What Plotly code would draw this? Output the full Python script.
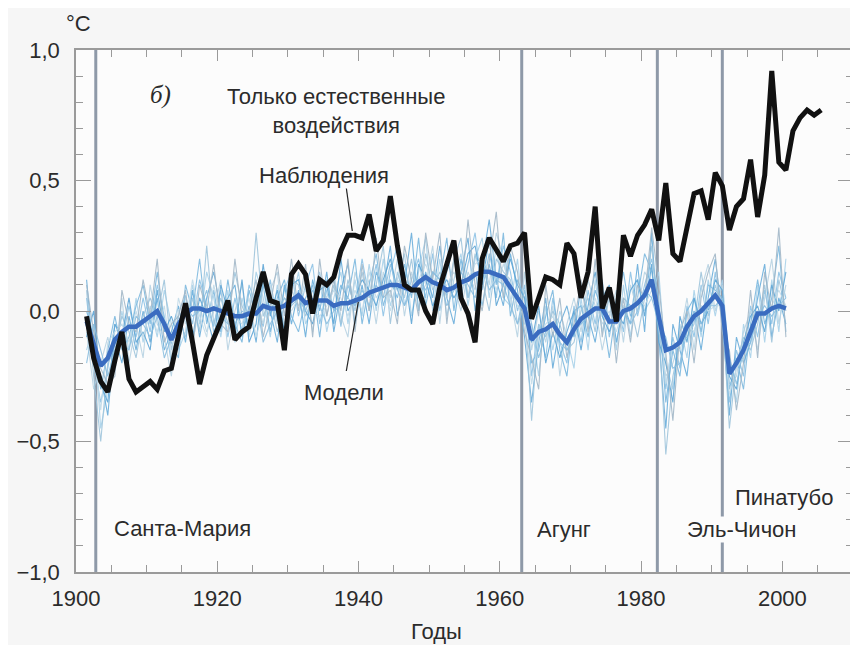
import numpy as np
import plotly.graph_objects as go

# ---------------- data ----------------
obs_years = list(range(1901, 2006))
observations = [
    -0.02, -0.18, -0.27, -0.31, -0.19, -0.08, -0.26, -0.31, -0.29, -0.27,
    -0.30, -0.23, -0.22, -0.10, 0.03, -0.12, -0.28, -0.17, -0.11, -0.04,
    0.04, -0.11, -0.08, -0.06, 0.05, 0.15, 0.04, 0.03, -0.15, 0.14,
    0.18, 0.14, -0.01, 0.12, 0.10, 0.13, 0.23, 0.29, 0.29, 0.28,
    0.37, 0.23, 0.27, 0.44, 0.25, 0.10, 0.08, 0.08, 0.00, -0.05,
    0.09, 0.18, 0.27, 0.05, -0.01, -0.12, 0.20, 0.28, 0.23, 0.19,
    0.25, 0.26, 0.30, -0.03, 0.05, 0.13, 0.12, 0.10, 0.26, 0.22,
    0.05, 0.15, 0.40, 0.01, 0.09, -0.04, 0.29, 0.21, 0.29, 0.33,
    0.39, 0.27, 0.49, 0.22, 0.19, 0.32, 0.45, 0.46, 0.35, 0.53,
    0.48, 0.31, 0.40, 0.43, 0.58, 0.36, 0.52, 0.92, 0.57, 0.54,
    0.69, 0.74, 0.77, 0.75, 0.77,
]

model_years = list(range(1901, 2001))
model_mean = [
    -0.04, -0.12, -0.21, -0.18, -0.11, -0.08, -0.06, -0.06, -0.04, -0.02,
    0.00, -0.05, -0.11, -0.05, -0.01, 0.01, 0.01, 0.00, 0.01, 0.00,
    -0.01, -0.02, -0.02, -0.01, -0.01, 0.02, 0.01, 0.01, 0.02, 0.04,
    0.06, 0.03, 0.04, 0.04, 0.04, 0.02, 0.03, 0.03, 0.04, 0.05,
    0.07, 0.08, 0.09, 0.10, 0.10, 0.09, 0.08, 0.11, 0.13, 0.11,
    0.10, 0.08, 0.09, 0.11, 0.12, 0.14, 0.15, 0.15, 0.14, 0.13,
    0.09, 0.05, 0.01, -0.11, -0.08, -0.07, -0.05, -0.09, -0.12, -0.07,
    -0.03, -0.01, 0.01, 0.01, -0.04, -0.04, 0.00, 0.01, 0.03, 0.06,
    0.12, -0.02, -0.15, -0.14, -0.12, -0.06, -0.02, 0.00, 0.03, 0.06,
    0.02, -0.24, -0.20, -0.15, -0.08, -0.01, -0.01, 0.01, 0.02, 0.01,
]

member_1 = [
    0.05, -0.20, -0.35, -0.22, -0.05, -0.12, 0.02, -0.10, 0.05, -0.08,
    0.10, -0.02, -0.20, -0.08, 0.06, -0.05, 0.12, 0.02, -0.06, 0.08,
    -0.10, 0.05, -0.08, 0.10, 0.02, -0.06, 0.12, -0.04, 0.08, 0.15,
    -0.02, 0.10, 0.18, -0.05, 0.08, 0.12, -0.06, 0.10, 0.02, 0.20,
    0.05, 0.18, -0.02, 0.15, 0.25, 0.02, 0.12, 0.20, 0.05, 0.22,
    0.00, 0.15, 0.25, 0.05, 0.18, 0.30, 0.08, 0.22, 0.10, 0.25,
    0.15, 0.00, 0.10, -0.25, -0.05, -0.18, 0.05, -0.12, -0.20, 0.02,
    -0.12, 0.08, -0.05, 0.12, -0.10, 0.05, -0.08, 0.15, -0.02, 0.10,
    0.20, 0.05, -0.30, -0.10, -0.22, 0.02, -0.10, 0.10, -0.05, 0.15,
    -0.05, -0.35, -0.15, -0.25, 0.02, -0.10, 0.08, -0.05, 0.15, 0.05,
]
member_2 = [
    -0.15, -0.05, -0.45, -0.30, -0.18, 0.00, -0.15, 0.05, -0.12, 0.02,
    -0.10, 0.08, -0.05, -0.15, -0.08, 0.10, -0.05, 0.15, 0.05, -0.10,
    0.08, -0.12, 0.05, -0.08, 0.15, 0.05, -0.10, 0.10, -0.05, 0.02,
    0.15, -0.05, 0.02, 0.12, -0.08, 0.05, 0.15, -0.05, 0.12, -0.02,
    0.18, 0.00, 0.20, 0.02, 0.12, 0.22, -0.02, 0.15, 0.28, 0.00,
    0.20, -0.02, 0.12, 0.22, 0.02, 0.20, 0.28, 0.05, 0.25, 0.05,
    0.02, 0.20, -0.05, -0.05, -0.25, 0.02, -0.15, 0.00, -0.10, -0.22,
    0.05, -0.15, 0.12, -0.08, 0.05, -0.15, 0.10, -0.10, 0.12, 0.00,
    0.05, 0.15, -0.20, -0.30, -0.05, -0.18, 0.08, -0.10, 0.12, -0.02,
    0.12, -0.20, -0.35, -0.05, -0.18, 0.10, -0.12, 0.12, -0.08, 0.20,
]
member_3 = [
    0.12, -0.18, -0.25, -0.40, -0.10, -0.20, -0.02, -0.15, 0.00, -0.12,
    0.05, -0.15, -0.08, 0.02, -0.12, 0.08, -0.10, 0.05, 0.15, 0.00,
    0.05, 0.10, -0.10, 0.02, -0.12, 0.12, 0.00, -0.12, 0.10, -0.05,
    0.08, -0.10, 0.12, 0.00, 0.15, -0.08, 0.08, 0.18, -0.05, 0.10,
    -0.05, 0.15, 0.08, 0.25, -0.02, 0.10, 0.30, 0.00, 0.15, 0.05,
    0.25, 0.05, -0.05, 0.15, 0.28, 0.00, 0.18, 0.35, 0.12, 0.02,
    0.22, 0.08, -0.10, -0.35, -0.12, 0.05, -0.22, -0.05, 0.02, -0.10,
    0.10, -0.02, -0.12, 0.05, 0.10, -0.12, 0.02, -0.05, 0.18, -0.08,
    0.30, -0.10, -0.45, -0.05, -0.15, -0.25, 0.00, -0.15, 0.05, 0.20,
    -0.02, -0.40, -0.10, -0.20, -0.12, 0.05, 0.18, -0.10, 0.05, -0.05,
]
member_4 = [
    -0.08, -0.30, -0.20, -0.10, -0.22, 0.05, -0.20, -0.05, -0.18, 0.10,
    -0.05, -0.10, -0.25, 0.00, 0.05, -0.12, 0.02, -0.08, 0.00, 0.12,
    -0.15, 0.00, 0.10, -0.10, 0.05, -0.05, 0.08, 0.15, -0.10, 0.08,
    0.02, 0.12, -0.08, 0.10, 0.05, 0.15, -0.02, -0.10, 0.15, 0.05,
    0.12, -0.05, 0.15, 0.05, 0.20, -0.02, 0.15, 0.05, 0.10, 0.25,
    -0.05, 0.20, 0.10, 0.00, 0.15, 0.08, 0.22, 0.10, 0.30, 0.20,
    0.05, -0.10, 0.15, -0.15, 0.00, -0.12, 0.02, -0.25, -0.05, 0.05,
    -0.08, 0.12, 0.02, -0.15, -0.02, 0.08, -0.12, 0.10, 0.00, 0.15,
    0.10, -0.08, -0.25, -0.20, -0.10, 0.05, -0.15, 0.08, 0.18, 0.00,
    0.10, -0.28, -0.25, -0.08, 0.00, -0.15, 0.05, 0.20, -0.05, 0.10,
]
member_5 = [
    0.00, -0.10, -0.30, -0.15, -0.02, -0.15, -0.10, 0.02, 0.10, -0.05,
    0.15, -0.05, -0.12, -0.18, 0.10, 0.00, 0.20, -0.05, 0.08, -0.08,
    0.12, -0.05, -0.12, 0.08, -0.02, 0.10, -0.08, 0.05, 0.12, -0.02,
    -0.08, 0.05, 0.10, -0.10, 0.12, 0.00, 0.10, 0.05, 0.20, -0.05,
    0.10, 0.22, 0.02, 0.12, 0.05, 0.18, 0.05, 0.28, 0.02, 0.15,
    0.12, 0.28, 0.00, 0.20, 0.05, 0.15, 0.02, 0.18, 0.05, 0.30,
    -0.02, 0.12, 0.05, -0.20, -0.15, -0.02, 0.08, -0.15, -0.25, 0.00,
    0.02, -0.10, 0.08, 0.00, -0.18, 0.02, 0.15, -0.02, 0.05, 0.22,
    0.15, 0.00, -0.35, -0.15, -0.25, 0.00, 0.05, -0.08, 0.10, 0.08,
    0.05, -0.30, -0.18, -0.30, -0.05, 0.12, -0.05, 0.05, 0.25, -0.08,
]
member_6 = [
    0.08, -0.25, -0.50, -0.20, -0.15, -0.02, -0.08, -0.18, -0.02, 0.05,
    -0.02, 0.12, -0.15, -0.02, -0.10, 0.05, -0.08, 0.25, -0.05, 0.05,
    -0.05, 0.15, 0.02, -0.05, 0.30, -0.02, 0.05, -0.08, 0.02, 0.12,
    0.10, -0.02, 0.05, 0.15, -0.02, 0.10, -0.05, 0.12, 0.00, 0.15,
    0.00, 0.10, 0.25, -0.05, 0.15, 0.05, 0.20, 0.00, 0.22, 0.08,
    0.15, 0.05, 0.20, 0.28, 0.05, 0.22, 0.12, 0.00, 0.20, 0.15,
    0.12, -0.05, 0.02, -0.42, -0.05, -0.10, 0.00, -0.05, -0.15, -0.12,
    0.00, 0.05, -0.08, 0.10, -0.05, -0.05, 0.05, 0.02, -0.10, 0.05,
    0.25, -0.05, -0.55, -0.25, -0.12, -0.10, -0.05, 0.15, -0.02, 0.10,
    0.00, -0.45, -0.20, -0.10, -0.15, -0.05, 0.10, -0.12, 0.12, 0.00,
]
member_7 = [
    -0.10, 0.00, -0.28, -0.35, -0.05, -0.10, 0.05, -0.12, -0.08, -0.15,
    0.08, -0.08, -0.02, -0.10, 0.00, -0.10, 0.05, -0.02, -0.12, 0.10,
    0.00, -0.08, 0.12, -0.12, -0.05, 0.18, -0.02, 0.08, -0.08, 0.10,
    0.12, 0.00, -0.05, 0.08, 0.10, -0.05, 0.20, 0.00, 0.05, 0.12,
    0.08, 0.02, 0.12, 0.20, 0.08, 0.15, -0.05, 0.18, 0.12, 0.02,
    0.08, 0.12, 0.05, 0.10, 0.22, 0.25, 0.10, 0.28, 0.02, 0.10,
    0.20, 0.10, 0.05, -0.12, 0.02, -0.20, -0.08, -0.18, -0.08, 0.00,
    -0.15, 0.02, 0.15, -0.02, -0.08, 0.00, -0.05, 0.08, 0.12, -0.02,
    0.18, -0.12, -0.20, -0.35, -0.02, -0.12, 0.05, -0.05, 0.00, 0.12,
    0.08, -0.25, -0.30, -0.12, -0.02, 0.02, -0.08, 0.10, 0.00, 0.15,
]
member_8 = [
    -0.05, -0.15, -0.38, -0.12, -0.08, -0.05, -0.12, 0.00, -0.10, 0.00,
    -0.08, 0.02, -0.18, 0.05, -0.05, 0.12, -0.02, -0.10, 0.10, -0.02,
    0.02, -0.02, -0.05, 0.05, -0.10, 0.00, 0.10, -0.05, 0.05, 0.00,
    0.05, 0.08, 0.00, -0.02, 0.02, 0.08, 0.05, -0.02, 0.08, 0.00,
    0.15, 0.05, 0.10, 0.00, 0.12, 0.08, 0.10, 0.12, 0.18, 0.10,
    0.05, 0.10, 0.15, 0.08, 0.12, 0.18, 0.20, 0.15, 0.08, 0.18,
    0.10, 0.02, -0.02, -0.28, -0.10, -0.05, -0.02, -0.10, -0.12, -0.05,
    -0.05, 0.00, 0.05, -0.05, 0.00, -0.08, 0.02, 0.00, 0.05, 0.02,
    0.08, 0.02, -0.28, -0.12, -0.15, -0.05, -0.08, 0.02, 0.00, 0.02,
    0.02, -0.32, -0.22, -0.18, -0.10, 0.00, -0.02, 0.02, 0.08, 0.02,
]
member_9 = [
    0.10, -0.08, -0.22, -0.28, -0.25, 0.08, -0.05, -0.08, 0.12, -0.02,
    0.20, -0.12, -0.05, -0.02, 0.08, -0.15, 0.10, 0.00, 0.18, -0.05,
    -0.08, 0.20, -0.02, 0.00, 0.12, -0.10, 0.02, 0.18, -0.02, 0.20,
    0.00, 0.18, -0.10, 0.20, -0.02, 0.12, 0.00, 0.20, -0.08, 0.18,
    0.00, 0.28, 0.05, 0.08, -0.05, 0.25, 0.12, -0.02, 0.30, 0.12,
    0.30, -0.05, 0.20, 0.05, 0.35, 0.10, 0.00, 0.20, 0.38, 0.05,
    0.25, 0.15, -0.08, -0.18, -0.30, 0.10, -0.10, 0.05, -0.18, -0.05,
    0.12, -0.08, 0.20, -0.10, 0.08, -0.20, 0.05, -0.12, 0.10, 0.05,
    0.32, 0.10, -0.15, -0.42, -0.08, 0.00, -0.20, 0.05, 0.15, 0.22,
    -0.08, -0.15, -0.38, -0.20, 0.08, -0.18, 0.15, 0.00, 0.32, -0.10,
]
member_10 = [
    -0.20, -0.05, -0.15, -0.25, -0.15, -0.12, -0.15, -0.02, -0.05, -0.10,
    -0.02, -0.18, -0.10, -0.05, 0.02, -0.02, 0.00, 0.08, -0.08, -0.02,
    -0.05, -0.05, 0.00, -0.02, 0.05, -0.12, -0.05, 0.00, 0.05, 0.02,
    0.05, 0.00, 0.08, 0.02, -0.05, 0.00, 0.02, 0.05, 0.02, 0.08,
    0.02, 0.10, 0.05, 0.18, 0.08, 0.02, 0.08, 0.12, 0.08, 0.15,
    0.12, 0.02, 0.08, 0.15, 0.10, 0.05, 0.18, 0.08, 0.12, 0.10,
    0.02, -0.05, 0.08, -0.05, -0.18, -0.08, -0.05, -0.12, -0.15, -0.08,
    -0.05, -0.02, 0.00, 0.08, -0.05, -0.02, 0.00, -0.05, 0.00, 0.08,
    0.05, -0.05, -0.10, -0.22, -0.20, -0.08, 0.00, -0.05, 0.02, 0.02,
    0.05, -0.18, -0.28, -0.15, -0.12, -0.02, 0.02, -0.02, 0.02, 0.05,
]
members = [member_1, member_2, member_3, member_4, member_5,
           member_6, member_7, member_8, member_9, member_10]

volcano_names = ["Санта-Мария", "Агунг", "Эль-Чичон", "Пинатубо"]
volcano_years = [1902.8, 1963.1, 1982.3, 1991.5]

x_ticks = [1900, 1920, 1940, 1960, 1980, 2000]
y_ticks = [-1.0, -0.5, 0.0, 0.5, 1.0]
y_tick_labels = ["−1,0", "−0,5", "0,0", "0,5", "1,0"]

# ---------------- figure ----------------
# the page shows the figure 8 px in from the top-left corner
OFF = 8
W, H = 858 - OFF, 645 - OFF
L, R, T, B = 76 - OFF, 3, 50 - OFF, 73
PW, PH = W - L - R, H - T - B

def px(xp):
    """screen pixel x -> paper x"""
    return (xp - OFF - L) / PW

def py(yp):
    """screen pixel y -> paper y"""
    return 1 - (yp - OFF - T) / PH

FONT = "Liberation Sans, Arial, sans-serif"
TXT = "#2b2b2b"

member_colors = ["#8ec3e6", "#a9d2ea", "#6aaedb", "#b8d3e3", "#7db9df",
                 "#9fc5dc", "#5fa6d6", "#c2dbe9", "#a3b8c8", "#8cbfe0"]

fig = go.Figure()
mx = np.array(model_years) + 0.5
ox = np.array(obs_years) + 0.5

for m, c in zip(members, member_colors):
    fig.add_trace(go.Scatter(x=mx, y=m, mode="lines",
                             line=dict(color=c, width=1.1),
                             opacity=0.9, hoverinfo="skip", showlegend=False))

fig.add_trace(go.Scatter(x=mx, y=model_mean, mode="lines",
                         line=dict(color="#3a6cc0", width=4.5),
                         showlegend=False, name="Модели"))
fig.add_trace(go.Scatter(x=ox, y=observations, mode="lines",
                         line=dict(color="#111111", width=5),
                         showlegend=False, name="Наблюдения"))

for vy in volcano_years:
    fig.add_shape(type="line", xref="x", yref="paper", x0=vy, x1=vy, y0=0, y1=1,
                  line=dict(color="#8e99a8", width=3), layer="below")

# leader lines
fig.add_shape(type="line", xref="paper", yref="paper",
              x0=px(347), y0=py(188), x1=px(353), y1=py(231),
              line=dict(color="#222", width=1.2))
fig.add_shape(type="line", xref="paper", yref="paper",
              x0=px(347), y0=py(371), x1=px(359), y1=py(302),
              line=dict(color="#222", width=1.2))

BG = "#fcfcfc"

def label(text, xp, yp, size=22, bg=None, family=FONT, **kw):
    fig.add_annotation(text=text, xref="paper", yref="paper", x=px(xp), y=py(yp),
                       xanchor="center", yanchor="middle", showarrow=False,
                       font=dict(family=family, size=size, color=TXT),
                       bgcolor=bg, borderpad=0, **kw)

label("°C", 79, 23, size=22)
label("Годы", 437, 631, size=22)
label("<i>б)</i>", 161, 95, size=25, family="Liberation Serif, serif")
label("Только естественные<br>воздействия", 337, 111, size=22)
label("Наблюдения", 325, 175, bg=BG)
label("Модели", 345, 392, bg=BG)
label_pos = [(183, 528), (565, 529), (744, 529), (786, 497)]
for name, (xp, yp) in zip(volcano_names, label_pos):
    label(name, xp, yp, bg=BG)

axis_common = dict(showline=True, linecolor="#9a9a9a", linewidth=1.5,
                   mirror="ticks", ticks="inside", tickcolor="#9a9a9a",
                   tickwidth=1.2, showgrid=False, zeroline=False,
                   tickfont=dict(family=FONT, size=22, color=TXT))

fig.update_xaxes(range=[1900, 2010], tickvals=x_ticks, ticklen=11,
                 ticklabelstandoff=6,
                 minor=dict(dtick=5, ticks="inside", ticklen=7,
                            tickcolor="#9a9a9a", tickwidth=1.2, showgrid=False),
                 **axis_common)
fig.update_yaxes(range=[-1, 1], tickvals=y_ticks, ticktext=y_tick_labels,
                 ticklen=15, ticklabelstandoff=10,
                 minor=dict(dtick=0.1, ticks="inside", ticklen=7,
                            tickcolor="#9a9a9a", tickwidth=1.2, showgrid=False),
                 **axis_common)

fig.update_layout(width=W, height=H, margin=dict(l=L, r=R, t=T, b=B),
                  paper_bgcolor="#f6f6f6", plot_bgcolor=BG,
                  font=dict(family=FONT, color=TXT), showlegend=False)

fig.write_html("out.html")
